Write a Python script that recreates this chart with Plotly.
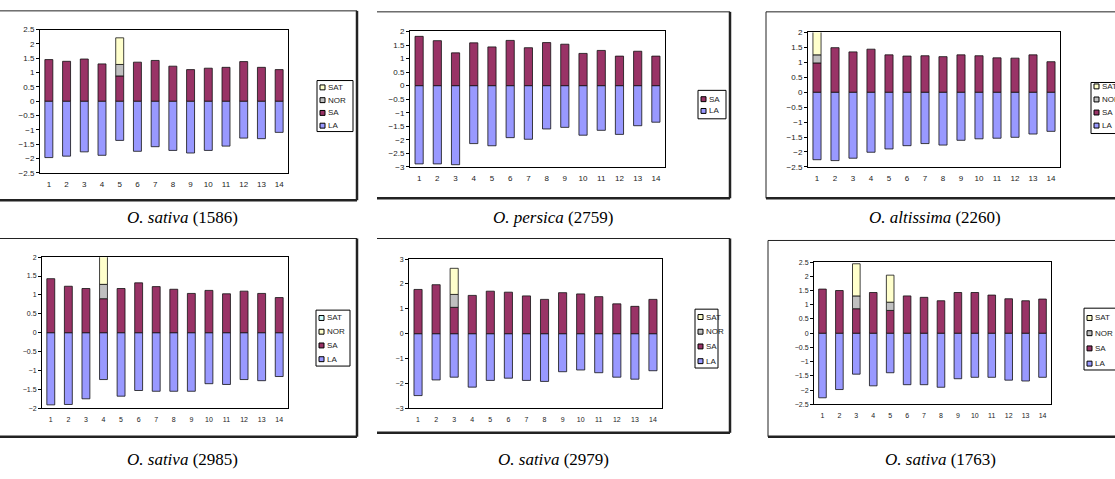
import plotly.graph_objects as go

W, H = 1115, 479
cats = list(range(1, 15))
N = None

# ---------------- data ----------------
titles = ["<i>O. sativa</i> (1586)", "<i>O. persica</i> (2759)", "<i>O. altissima</i> (2260)",
          "<i>O. sativa</i> (2985)", "<i>O. sativa</i> (2979)", "<i>O. sativa</i> (1763)"]

p1_LA = [-1.97, -1.92, -1.77, -1.89, -1.37, -1.75, -1.59, -1.72, -1.81, -1.72, -1.57, -1.29, -1.31, -1.09]
p1_SA = [1.45, 1.39, 1.47, 1.30, 0.88, 1.36, 1.42, 1.22, 1.10, 1.15, 1.18, 1.38, 1.18, 1.10]
p1_NOR = [N, N, N, N, 0.40, N, N, N, N, N, N, N, N, N]
p1_SAT = [N, N, N, N, 0.93, N, N, N, N, N, N, N, N, N]

p2_LA = [-2.89, -2.89, -2.92, -2.14, -2.22, -1.92, -1.98, -1.60, -1.54, -1.83, -1.65, -1.80, -1.48, -1.35]
p2_SA = [1.82, 1.66, 1.21, 1.58, 1.43, 1.67, 1.40, 1.59, 1.53, 1.19, 1.30, 1.09, 1.27, 1.09]

p3_LA = [-2.26, -2.29, -2.21, -2.01, -1.90, -1.79, -1.72, -1.77, -1.61, -1.56, -1.54, -1.51, -1.40, -1.31]
p3_SA = [0.98, 1.49, 1.35, 1.44, 1.25, 1.21, 1.22, 1.19, 1.25, 1.22, 1.15, 1.14, 1.25, 1.02]
p3_NOR = [0.27, N, N, N, N, N, N, N, N, N, N, N, N, N]
p3_SAT = [0.82, N, N, N, N, N, N, N, N, N, N, N, N, N]

p4_LA = [-1.91, -1.90, -1.75, -1.24, -1.68, -1.53, -1.55, -1.55, -1.55, -1.35, -1.37, -1.24, -1.27, -1.16]
p4_SA = [1.43, 1.23, 1.17, 0.90, 1.17, 1.32, 1.22, 1.15, 1.04, 1.12, 1.03, 1.10, 1.04, 0.93]
p4_NOR = [N, N, N, 0.38, N, N, N, N, N, N, N, N, N, N]
p4_SAT = [N, N, N, 0.74, N, N, N, N, N, N, N, N, N, N]

p5_LA = [-2.49, -1.86, -1.75, -2.15, -1.88, -1.79, -1.88, -1.92, -1.53, -1.46, -1.57, -1.75, -1.83, -1.49]
p5_SA = [1.78, 1.97, 1.06, 1.54, 1.71, 1.67, 1.52, 1.38, 1.65, 1.60, 1.49, 1.20, 1.10, 1.38]
p5_NOR = [N, N, 0.52, N, N, N, N, N, N, N, N, N, N, N]
p5_SAT = [N, N, 1.05, N, N, N, N, N, N, N, N, N, N, N]

p6_LA = [-2.27, -1.98, -1.44, -1.85, -1.39, -1.81, -1.81, -1.90, -1.60, -1.55, -1.55, -1.65, -1.68, -1.55]
p6_SA = [1.55, 1.50, 0.86, 1.43, 0.80, 1.31, 1.26, 1.14, 1.43, 1.43, 1.34, 1.21, 1.14, 1.20]
p6_NOR = [N, N, 0.45, N, 0.29, N, N, N, N, N, N, N, N, N]
p6_SAT = [N, N, 1.13, N, 0.95, N, N, N, N, N, N, N, N, N]

y_ranges = [(-2.5, 2.5, 0.5), (-3, 2, 0.5), (-2.5, 2, 0.5), (-2, 2, 0.5), (-3, 3, 1), (-2.5, 2.5, 0.5)]

# ---------------- styles ----------------
C_LA, C_SA, C_NOR, C_SAT, C_CYAN = "#9999ff", "#993366", "#c0c0c0", "#ffffcc", "#ccffff"

series = [
    [("LA", p1_LA, C_LA), ("SA", p1_SA, C_SA), ("NOR", p1_NOR, C_NOR), ("SAT", p1_SAT, C_SAT)],
    [("LA", p2_LA, C_LA), ("SA", p2_SA, C_SA)],
    [("LA", p3_LA, C_LA), ("SA", p3_SA, C_SA), ("NOR", p3_NOR, C_NOR), ("SAT", p3_SAT, C_SAT)],
    [("LA", p4_LA, C_LA), ("SA", p4_SA, C_SA), ("NOR", p4_NOR, C_NOR), ("SAT", p4_SAT, C_SAT)],
    [("LA", p5_LA, C_LA), ("SA", p5_SA, C_SA), ("NOR", p5_NOR, C_NOR), ("SAT", p5_SAT, C_SAT)],
    [("LA", p6_LA, C_LA), ("SA", p6_SA, C_SA), ("NOR", p6_NOR, C_NOR), ("SAT", p6_SAT, C_SAT)],
]
# legend entries (top to bottom) as shown in each panel
legends = [
    [("SAT", C_SAT), ("NOR", C_NOR), ("SA", C_SA), ("LA", C_LA)],
    [("SA", C_SA), ("LA", C_LA)],
    [("SAT", C_SAT), ("NOR", C_NOR), ("SA", C_SA), ("LA", C_LA)],
    [("SAT", C_CYAN), ("NOR", C_SAT), ("SA", C_SA), ("LA", C_LA)],
    [("SAT", C_SAT), ("NOR", C_NOR), ("SA", C_SA), ("LA", C_LA)],
    [("SAT", C_SAT), ("NOR", C_NOR), ("SA", C_SA), ("LA", C_LA)],
]

# layout geometry in pixels
plot_px = [(40, 288, 26, 172), (410, 665, 28, 166), (808, 1060, 29, 166),
           (42, 288, 258, 412), (409, 662, 260, 412), (814, 1051, 263, 408)]
frame_px = [(-2, 357, 7, 200, False), (377, 730, 8, 198, False), (766, 1125, 8, 198, True),
            (-2, 357, 239, 441, False), (377, 730, 239, 437, False), (768, 1125, 241, 441, True)]
legend_px = [(317, 353, 78, 130, 85, 13), (698, 726, 88, 117, 97, 12), (1091, 1125, 80, 132, 84, 13.3),
             (316, 350, 312, 369, 320, 14), (695, 718, 311, 371, 319, 15), (1084, 1125, 310, 373, 320, 15.5)]
caption_px = [(182, 218), (553, 218), (935, 218), (182, 464), (553, 464), (940, 464)]
tick_font = [8, 8, 8, 7, 7, 7]


def px_x(v):
    return v / W


def px_y(v):
    return 1 - v / H


fig = go.Figure()
layout = dict(width=W, height=H, margin=dict(l=0, r=0, t=0, b=0), paper_bgcolor="white",
              plot_bgcolor="white", barmode="relative", showlegend=False, bargap=0.55)
shapes, annotations = [], []

for i in range(6):
    k = "" if i == 0 else str(i + 1)
    for name, vals, col in series[i]:
        fig.add_trace(go.Bar(x=cats, y=vals, name=name, cliponaxis=False,
                             marker=dict(color=col, line=dict(color="#111", width=0.8)),
                             xaxis="x" + k, yaxis="y" + k, hoverinfo="x+y+name"))
    x0, x1, y0, y1 = plot_px[i]
    lo, hi, dt = y_ranges[i]
    fs = tick_font[i]
    layout["xaxis" + k] = dict(domain=[px_x(x0), px_x(x1)], anchor="y" + k, range=[0.5, 14.5],
                               tickmode="array", tickvals=cats, ticks="outside", ticklen=4,
                               tickcolor="rgba(0,0,0,0)", showline=True, mirror=True, linecolor="black",
                               linewidth=1, showgrid=False, zeroline=False,
                               tickfont=dict(family="Liberation Sans, Arial", size=fs, color="#222"))
    layout["yaxis" + k] = dict(domain=[px_y(y1), px_y(y0)], anchor="x" + k, range=[lo, hi], dtick=dt,
                               tick0=0, ticks="outside", ticklen=3, tickcolor="black", showline=True,
                               mirror=True, linecolor="black", linewidth=1, showgrid=False, zeroline=False,
                               tickfont=dict(family="Liberation Sans, Arial", size=fs, color="#222"))

    # outer chart frame: thin top/left, heavy right/bottom shadow
    fx0, fx1, fy0, fy1, left = frame_px[i]
    shapes.append(dict(type="line", xref="paper", yref="paper", x0=px_x(fx0), x1=px_x(fx1),
                       y0=px_y(fy0), y1=px_y(fy0), line=dict(color="#222", width=1)))
    if left:
        shapes.append(dict(type="line", xref="paper", yref="paper", x0=px_x(fx0), x1=px_x(fx0),
                           y0=px_y(fy0), y1=px_y(fy1), line=dict(color="#222", width=1)))
    shapes.append(dict(type="line", xref="paper", yref="paper", x0=px_x(fx1), x1=px_x(fx1),
                       y0=px_y(fy0), y1=px_y(fy1), line=dict(color="#222", width=2.5)))
    shapes.append(dict(type="line", xref="paper", yref="paper", x0=px_x(fx0), x1=px_x(fx1),
                       y0=px_y(fy1), y1=px_y(fy1), line=dict(color="#222", width=2.5)))

    # legend box
    lx0, lx1, ly0, ly1, first, step = legend_px[i]
    shapes.append(dict(type="rect", xref="paper", yref="paper", x0=px_x(lx0), x1=px_x(lx1),
                       y0=px_y(ly1), y1=px_y(ly0), line=dict(color="black", width=1), fillcolor="white"))
    for j, (lab, col) in enumerate(legends[i]):
        cy = first + j * step
        shapes.append(dict(type="rect", xref="paper", yref="paper", x0=px_x(lx0 + 3), x1=px_x(lx0 + 8),
                           y0=px_y(cy + 2.5), y1=px_y(cy - 2.5), line=dict(color="black", width=1),
                           fillcolor=col))
        annotations.append(dict(xref="paper", yref="paper", x=px_x(lx0 + 9), y=px_y(cy), text=lab,
                                showarrow=False, xanchor="left", yanchor="middle",
                                font=dict(family="Liberation Sans, Arial", size=8, color="#222")))

    # caption
    cx, cy = caption_px[i]
    annotations.append(dict(xref="paper", yref="paper", x=px_x(cx), y=px_y(cy), text=titles[i],
                            showarrow=False, xanchor="center", yanchor="middle",
                            font=dict(family="Liberation Serif, Times New Roman", size=17, color="black")))

layout["shapes"] = shapes
layout["annotations"] = annotations
fig.update_layout(**layout)
fig.write_html("out.html")
